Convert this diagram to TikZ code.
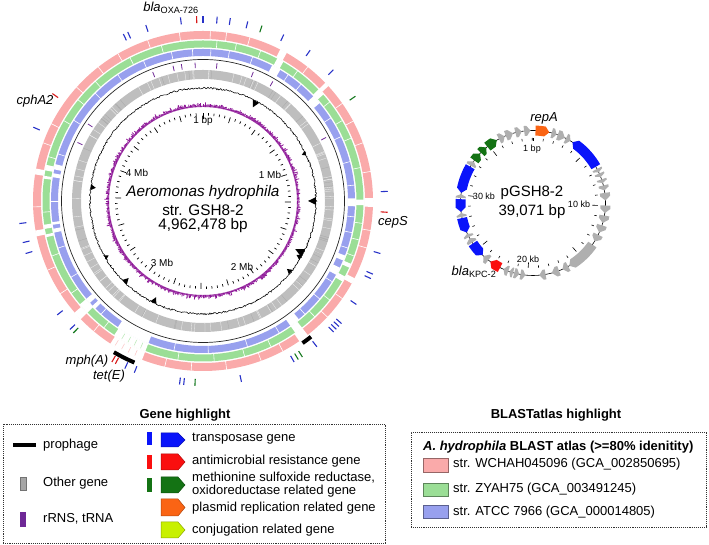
\documentclass[tikz,border=0pt]{standalone}
\usepackage{fontspec}
\setmainfont{Liberation Sans}
\usetikzlibrary{calc}
\definecolor{ringpink}{RGB}{250,170,170}
\definecolor{ringgreen}{RGB}{155,222,150}
\definecolor{ringblue}{RGB}{152,160,238}
\definecolor{ringgray}{RGB}{190,190,190}
\definecolor{skew}{RGB}{140,20,150}
\definecolor{tpblue}{RGB}{40,50,200}
\definecolor{amrred}{RGB}{215,25,25}
\definecolor{msgreen}{RGB}{20,120,30}
\definecolor{legblue}{RGB}{10,20,250}
\definecolor{legred}{RGB}{250,15,15}
\definecolor{leggreen}{RGB}{20,115,20}
\definecolor{legorange}{RGB}{250,100,20}
\definecolor{leglime}{RGB}{200,240,0}
\definecolor{rnapurple}{RGB}{110,40,150}
\definecolor{pgray}{RGB}{175,175,175}
\newcommand\sect[5]{\fill[#5] ({90-(#3)}:#2) arc[start angle={90-(#3)}, end angle={90-(#4)}, radius=#2pt] -- ({90-(#4)}:#1) arc[start angle={90-(#4)}, end angle={90-(#3)}, radius=#1pt] -- cycle;}
\newcommand\ftick[2]{\draw[#2, line width=1.1pt] ({90-(#1)}:178) -- ({90-(#1)}:185);}
\newcommand\rtick[1]{\draw[rnapurple, line width=0.8pt] ({90-(#1)}:133) -- ({90-(#1)}:138.5);}
\newcommand\gcspike[3]{\fill ({90-(#1)-(#3)}:113) -- ({90-(#1)}:{113-(#2)}) -- ({90-(#1)+(#3)}:113) -- cycle;}
\newcommand\pgcw[3]{%
 \pgfmathsetmacro\pgHd{min(3.5,((#2)-(#1))*0.6)}%
 \pgfmathsetmacro\pgMb{(#2)-\pgHd}%
 \fill[#3] ({90-(#1)}:77.5) arc[start angle={90-(#1)}, end angle={90-\pgMb}, radius=77.5pt] -- ({90-(#2)}:72.5) -- ({90-\pgMb}:67.5) arc[start angle={90-\pgMb}, end angle={90-(#1)}, radius=67.5pt] -- cycle;}
\newcommand\pgccw[3]{%
 \pgfmathsetmacro\pgHd{min(3.5,((#2)-(#1))*0.6)}%
 \pgfmathsetmacro\pgMa{(#1)+\pgHd}%
 \fill[#3] ({90-(#1)}:72.5) -- ({90-\pgMa}:77.5) arc[start angle={90-\pgMa}, end angle={90-(#2)}, radius=77.5pt] -- ({90-(#2)}:67.5) arc[start angle={90-(#2)}, end angle={90-\pgMa}, radius=67.5pt] -- cycle;}
\newcommand\legarrow[3]{\filldraw[fill=#3, draw=#3!70!black, line width=0.5pt] (161,#1) -- (178,#1) -- (185,{(#1+#2)/2}) -- (178,#2) -- (161,#2) -- cycle;}
\tikzset{
 legtext/.style={anchor=west, font=\fontsize{13}{15}\selectfont, inner sep=0pt},
 ticklabel/.style={font=\fontsize{10}{12}\selectfont, inner sep=0pt},
 pticklabel/.style={font=\fontsize{9}{11}\selectfont, inner sep=0pt},
 genelabel/.style={font=\fontsize{13}{15}\selectfont\itshape, inner sep=0pt},
 boxline/.style={densely dotted, line width=0.9pt, draw=black!80},
}
\begin{document}
\begin{tikzpicture}[x=1pt,y=1pt]
\useasboundingbox (0,0) rectangle (709,545);
\pgfmathsetseed{4321}
% ================= main chromosome =================
\begin{scope}[shift={(203,344)}]
 % BLAST rings
 \fill[ringpink, even odd rule] (0,0) circle[radius=170pt] (0,0) circle[radius=162pt];
 \fill[ringgreen, even odd rule] (0,0) circle[radius=160.5pt] (0,0) circle[radius=153.5pt];
 \fill[ringblue, even odd rule] (0,0) circle[radius=152pt] (0,0) circle[radius=145pt];
 % separators
 \foreach \a in {2.5,8,16,38,55,62,70,80,100,106,125,133,152,160,172,184,193,220,237,246,268,290,297,312,322,330,341,352}
  {\draw[white, line width=0.6pt] ({90-\a}:161.5) -- ({90-\a}:170.5);}
 \foreach \a in {5,12,21,36,52,60,67,78,98,104,110,128,136,155,165,176,189,218,235,250,266,286,300,309,318,333,345}
  {\draw[white, line width=0.6pt] ({90-\a}:153) -- ({90-\a}:161);}
 \foreach \a in {3,10,19,34,40,57,65,75,84,96,102,108,122,130,138,150,163,178,191,222,240,252,270,288,302,315,326,337,348,356}
  {\draw[white, line width=0.6pt] ({90-\a}:144.5) -- ({90-\a}:152.5);}
 % gaps
 \foreach \a/\b in {27/29.5,46/47.5,89/92,117/119,142/145.5,201/213,226/229,258/260,279/281}
  {\sect{161.5}{170.5}{\a}{\b}{white}}
 \foreach \a/\b in {27.5/30,46/48.5,89.5/91.5,113/114.5,118/120,142/145,201/213.5,226/230,257/258,260/261.5,278/279,281/283}
  {\sect{153}{161}{\a}{\b}{white}}
 \foreach \a/\b in {27/30.5,46.5/50,89/92,111/113,116/119,141/145,201/214,225/226.5,228/230,258/259.5,261/262,279/280.5,282/284}
  {\sect{144.5}{152.5}{\a}{\b}{white}}
 % faint hits inside the big gap
 \foreach \a in {203,205.5,208,210.5}
  {\draw[ringgreen!70, line width=0.5pt] ({90-\a}:154) -- ({90-\a}:160);
   \draw[ringpink!70, line width=0.5pt] ({90-\a-0.8}:163) -- ({90-\a-0.8}:169);}
 % black reference circle
 \draw[black!85, line width=0.7pt] (0,0) circle[radius=141.5pt];
 % rRNA / tRNA ticks
 \foreach \a in {338.7,347.5,351,356.7,5.8,21.3,30.3,62.7,295,303.8}{\rtick{\a}}
 % gray gene ring
 \fill[ringgray, even odd rule] (0,0) circle[radius=131pt] (0,0) circle[radius=122pt];
 \foreach \i in {1,...,90}
  {\pgfmathsetmacro\ga{rnd*360}\draw[white!80!ringgray, line width=0.3pt] (\ga:122) -- (\ga:131);}
 \foreach \i in {1,...,40}
  {\pgfmathsetmacro\ga{rnd*360}\draw[black!35, line width=0.25pt] (\ga:122) -- (\ga:131);}
 % GC content
 \draw[black, line width=0.55pt] plot[domain=0:360, samples=721] (\x:{112.1+1.8*rnd}) -- cycle;
 \gcspike{28}{7}{1.8}
 \gcspike{90}{8}{2}
 \gcspike{117.5}{9}{2.2}
 \gcspike{120}{5}{1.5}
 \gcspike{129}{5}{1.5}
 \gcspike{206}{6}{1.6}
 \gcspike{224}{6}{1.6}
 \gcspike{277}{5}{1.5}
 \gcspike{65}{4}{1.2}
 \gcspike{240}{4}{1.2}
 % GC skew
 \foreach \t in {0,0.5,...,359.5}
  {\pgfmathsetmacro\len{1+3.5*rnd*rnd+1.5*rnd}\draw[skew, line width=0.8pt] (\t:94) -- (\t:{94+\len});}
 % scale ticks
 \foreach \k in {0,...,98}
  {\pgfmathsetmacro\ta{90-\k*3.62720}
   \pgfmathtruncatemacro\md{mod(\k,5)}
   \ifnum\md=0 \draw[black, line width=0.7pt] (\ta:82) -- (\ta:88);
   \else \draw[black, line width=0.7pt] (\ta:85.5) -- (\ta:88); \fi}
 % outer feature ticks
 \foreach \a in {334.5,336,342,353,0,4.4,8.5,14,25.9,35.4,44.8,87,106.5,113.3,114.8,124,131.5,132.7,133.9,135.1,142,150.5,168,186,187.3,201.8,205,226,232,253.5,257,263,293.5}{\ftick{\a}{tpblue}}
 \foreach \a in {358,93.5,208.3,209.5,305.5}{\ftick{\a}{amrred}}
 \foreach \a in {18.6,55.5,147.5,149,182.5,224.5}{\ftick{\a}{msgreen}}
 % prophages
 \draw[black, line width=4pt] ({90-203}:175.5) arc[start angle={90-203}, end angle={90-210.5}, radius=175.5pt];
 \draw[black, line width=4pt] ({90-141.5}:173.5) arc[start angle={90-141.5}, end angle={90-145}, radius=173.5pt];
\end{scope}
% main labels
\node[font=\fontsize{15.3}{17}\selectfont\itshape, inner sep=0pt] (mname) at (203,352) {Aeromonas hydrophila};
\node[font=\fontsize{15.3}{17}\selectfont, inner sep=0pt] (mstr) at (203,335) {str. GSH8-2};
\node[font=\fontsize{15.3}{17}\selectfont, inner sep=0pt] (mlen) at (203,319) {4,962,478 bp};
\node[ticklabel] (m0) at (203,424) {1 bp};
\node[ticklabel] (m1) at (270,370) {1 Mb};
\node[ticklabel] (m4) at (137,372) {4 Mb};
\node[ticklabel] (m3) at (162,282) {3 Mb};
\node[ticklabel] (m2) at (242,278) {2 Mb};
\node[genelabel] (oxa) at (171,537) {bla\textsubscript{\upshape OXA-726}};
\node[genelabel] (cph) at (35,444) {cphA2};
\node[genelabel] (cep) at (393,323) {cepS};
\node[genelabel] (mph) at (87,184) {mph(A)};
\node[genelabel] (tet) at (109,169) {tet(E)};
% ================= plasmid =================
\begin{scope}[shift={(533,342)}]
 \draw[black, line width=0.6pt] (0,0) circle[radius=72.5pt];
 \foreach \k in {1,...,39}
  {\pgfmathsetmacro\ta{90-\k*9.21399}
   \pgfmathtruncatemacro\md{mod(\k,5)}
   \ifnum\md=0 \draw[black, line width=0.6pt] (\ta:59.5) -- (\ta:65);
   \else \draw[black, line width=0.6pt] (\ta:62.5) -- (\ta:65); \fi}
 \draw[black, line width=0.6pt] (90:62) -- (90:65);
 \pgcw{2}{13}{legorange}
 \pgcw{15}{19}{pgray}\pgcw{20}{26}{pgray}\pgcw{27}{31}{pgray}
 \pgccw{33}{60}{legblue}
 \pgcw{62}{65}{pgray}\pgcw{66}{69}{pgray}\pgcw{71}{74}{pgray}\pgcw{76}{80}{pgray}
 \pgcw{82}{88}{pgray}\pgcw{92}{98}{pgray}\pgcw{100}{106}{pgray}\pgcw{108}{114}{pgray}
 \pgcw{116}{122}{pgray}\pgcw{125}{150}{pgray}\pgcw{151}{156}{pgray}
 \pgcw{159}{165}{pgray}\pgcw{170}{175}{pgray}\pgccw{186}{190}{pgray}\pgccw{191}{195}{pgray}
 \pgcw{196}{199}{pgray}\pgcw{200}{204}{pgray}
 \pgcw{207}{216}{legred}
 \pgcw{218}{223}{pgray}
 \pgccw{224}{236}{legblue}
 \pgcw{237}{241}{pgray}\pgcw{242}{245}{pgray}
 \pgccw{246}{258}{legblue}
 \pgcw{259}{262}{pgray}
 \pgccw{263}{273}{legblue}
 \pgcw{274}{277}{pgray}
 \pgccw{278}{300}{legblue}
 \pgcw{301}{305}{pgray}
 \pgcw{306}{313}{leggreen}\pgcw{314}{320}{leggreen}\pgcw{321}{330}{leggreen}
 \pgcw{332}{337}{pgray}\pgcw{338}{344}{pgray}\pgcw{346}{351}{pgray}\pgcw{353}{358}{pgray}
\end{scope}
\node[font=\fontsize{15}{17}\selectfont, inner sep=0pt] (pname) at (532,352) {pGSH8-2};
\node[font=\fontsize{15}{17}\selectfont, inner sep=0pt] (plen) at (532,333) {39,071 bp};
\node[pticklabel] (p0) at (532,396) {1 bp};
\node[pticklabel] (p10) at (579,341) {10 kb};
\node[pticklabel] (p20) at (528,286) {20 kb};
\node[pticklabel] (p30) at (484,349) {30 kb};
\node[genelabel] (repa) at (544,427) {repA};
\node[genelabel] (kpc) at (474,273) {bla\textsubscript{\upshape KPC-2}};
% ================= legends =================
\node[font=\fontsize{13}{15}\selectfont\bfseries, inner sep=0pt] (gtitle) at (185,130) {Gene highlight};
\draw[boxline] (3,2) rectangle (385,121);
\fill[black] (13,98) rectangle (36,102);
\node[legtext] (lproph) at (43,100) {prophage};
\filldraw[fill=black!35, draw=black!55, line width=0.4pt] (20,55) rectangle (26,68);
\node[legtext] (lother) at (43,62) {Other gene};
\fill[rnapurple] (20,18) rectangle (26,33);
\node[legtext] (lrna) at (43,26) {rRNS, tRNA};
\fill[legblue] (147,100) rectangle (152,113);
\legarrow{98}{112}{legblue}
\node[legtext] (ltp) at (192,106) {transposase gene};
\fill[legred] (147,76) rectangle (152,90);
\legarrow{75}{91}{legred}
\node[legtext] (lamr) at (192,84) {antimicrobial resistance gene};
\fill[leggreen] (147,53) rectangle (152,67);
\legarrow{52}{68}{leggreen}
\node[legtext] (lms1) at (192,67) {methionine sulfoxide reductase,};
\node[legtext] (lms2) at (192,54) {oxidoreductase related gene};
\legarrow{29}{46}{legorange}
\node[legtext] (lrep) at (192,37) {plasmid replication related gene};
\legarrow{7}{23}{leglime}
\node[legtext] (lconj) at (192,15) {conjugation related gene};
\node[font=\fontsize{13}{15}\selectfont\bfseries, inner sep=0pt] (btitle) at (556,130) {BLASTatlas highlight};
\draw[boxline] (411,18) rectangle (706,113);
\node[legtext, font=\fontsize{13}{15}\selectfont\bfseries] (bhead) at (423,98) {\textit{A. hydrophila} BLAST atlas (>=80\% idenitity)};
\filldraw[fill=ringpink, draw=ringpink!60!black, line width=0.5pt] (423,73) rectangle (448,87);
\node[legtext] (b1) at (453,81) {str. WCHAH045096 (GCA\_002850695)};
\filldraw[fill=ringgreen, draw=ringgreen!60!black, line width=0.5pt] (423,49) rectangle (448,62);
\node[legtext] (b2) at (453,56) {str. ZYAH75 (GCA\_003491245)};
\filldraw[fill=ringblue, draw=ringblue!60!black, line width=0.5pt] (423,27) rectangle (448,40);
\node[legtext] (b3) at (453,33) {str. ATCC 7966 (GCA\_000014805)};
\end{tikzpicture}
\end{document}
